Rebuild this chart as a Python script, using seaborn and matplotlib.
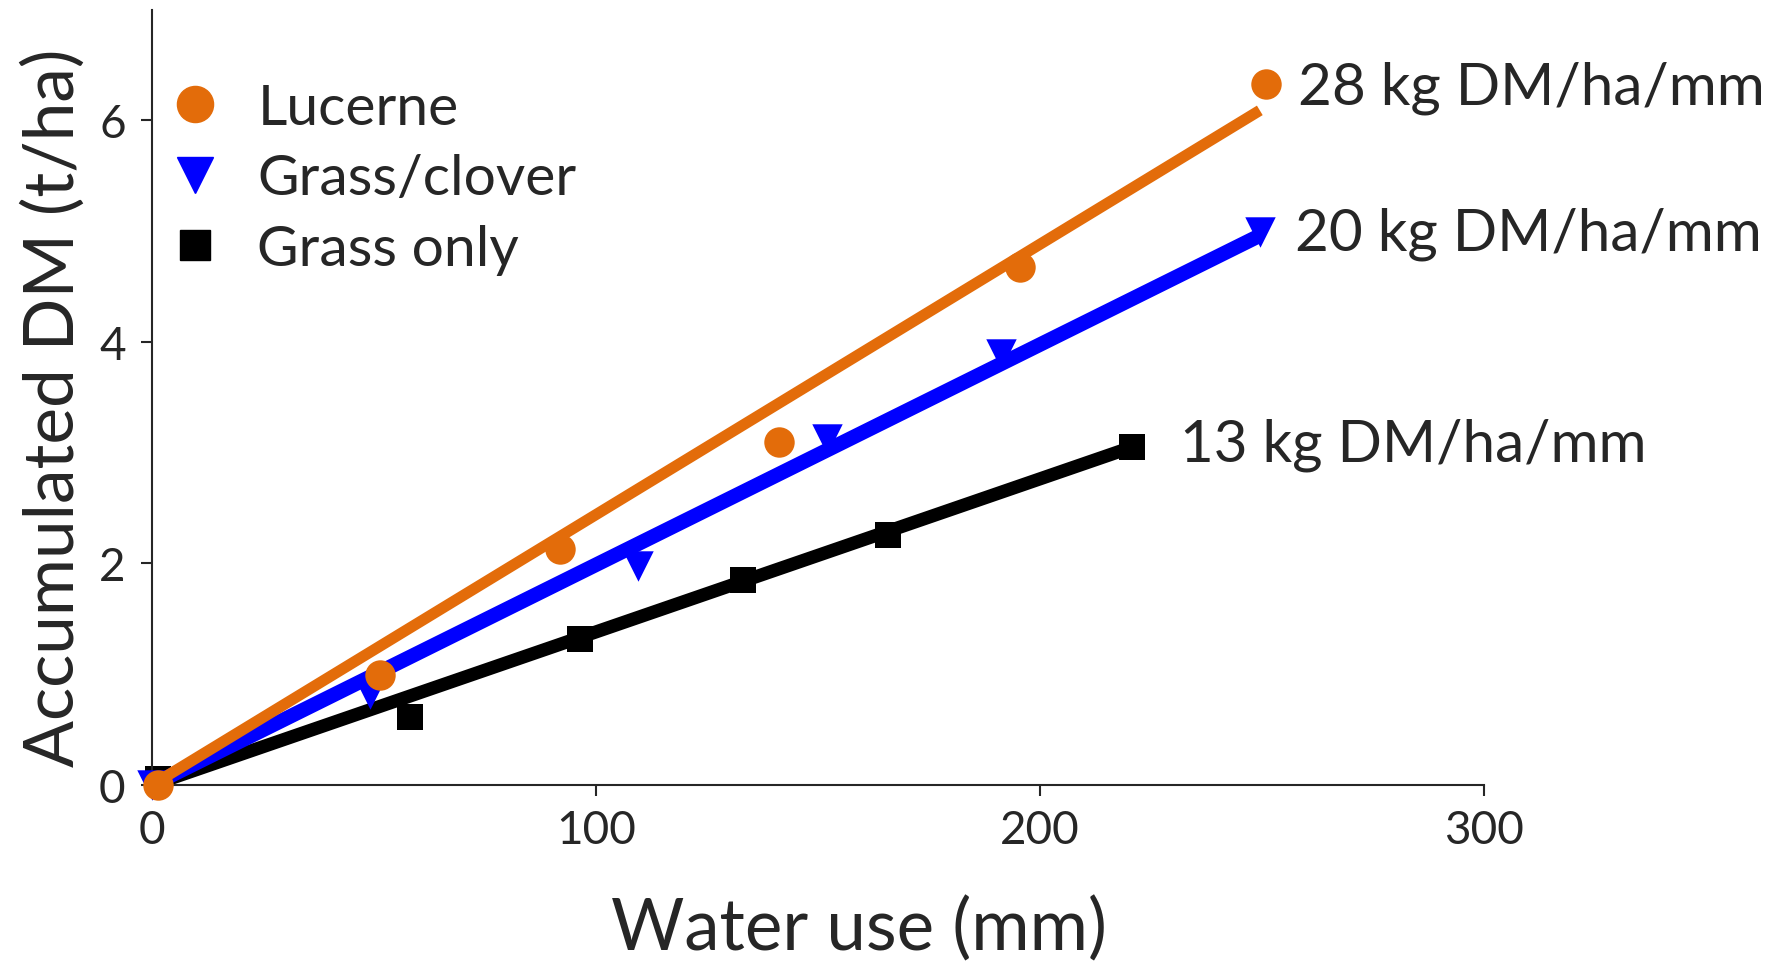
import numpy as np
import pandas as pd
import matplotlib
matplotlib.use("Agg")
import matplotlib.pyplot as plt
import seaborn as sns
from matplotlib.lines import Line2D

lucerne_x = [1.3, 51.3, 91.8, 141.3, 195.4, 251.0]
lucerne_y = [0.0, 0.99, 2.13, 3.10, 4.68, 6.33]
clover_x = [0.0, 49.2, 109.4, 152.0, 191.3, 249.5]
clover_y = [0.0, 0.82, 1.98, 3.12, 3.89, 4.99]
grass_x = [1.3, 58.2, 96.4, 133.2, 165.8, 220.7]
grass_y = [0.05, 0.61, 1.32, 1.85, 2.26, 3.05]

# fitted lines (start and end)
lucerne_fit_x = [0, 249.5]
lucerne_fit_y = [0, 6.09]
clover_fit_x = [0, 249.5]
clover_fit_y = [0, 4.96]
grass_fit_x = [0, 220.0]
grass_fit_y = [0, 3.04]

series = ["Lucerne", "Grass/clover", "Grass only"]
rates = ["28 kg DM/ha/mm", "20 kg DM/ha/mm", "13 kg DM/ha/mm"]
rate_pos_x = [258, 257.5, 231.5]
rate_pos_y = [6.30, 4.98, 3.08]

colors = {"Lucerne": "#E36C0A", "Grass/clover": "#0000FF", "Grass only": "#000000"}
markers = {"Lucerne": "o", "Grass/clover": "v", "Grass only": "s"}
sizes = {"Lucerne": 480, "Grass/clover": 480, "Grass only": 330}
widths = {"Lucerne": 8, "Grass/clover": 10.5, "Grass only": 9.5}
zorders = {"Grass only": 2, "Grass/clover": 3, "Lucerne": 4}

pts = pd.DataFrame({
    "water": lucerne_x + clover_x + grass_x,
    "dm": lucerne_y + clover_y + grass_y,
    "crop": ["Lucerne"] * 6 + ["Grass/clover"] * 6 + ["Grass only"] * 6,
})
fits = pd.DataFrame({
    "water": lucerne_fit_x + clover_fit_x + grass_fit_x,
    "dm": lucerne_fit_y + clover_fit_y + grass_fit_y,
    "crop": ["Lucerne"] * 2 + ["Grass/clover"] * 2 + ["Grass only"] * 2,
})

sns.set_style("ticks")
plt.rcParams["font.family"] = ["Lato", "DejaVu Sans"]

fig = plt.figure(figsize=(17.76, 9.62), dpi=100)
ax = fig.add_axes([0.0856, 0.183, 0.75, 0.806])

for crop in series:
    f = fits[fits["crop"] == crop]
    sns.lineplot(data=f, x="water", y="dm", color=colors[crop], lw=widths[crop],
                 ax=ax, zorder=zorders[crop], solid_capstyle="butt")
    p = pts[pts["crop"] == crop]
    sns.scatterplot(data=p, x="water", y="dm", color=colors[crop], marker=markers[crop],
                    s=sizes[crop], linewidth=0, ax=ax, zorder=zorders[crop], clip_on=False)

for txt, tx, ty in zip(rates, rate_pos_x, rate_pos_y):
    ax.text(tx, ty, txt, fontsize=42, va="center", ha="left")

ax.set_xlim(0, 300)
ax.set_ylim(0, 7)
ax.set_xticks([0, 100, 200, 300])
ax.set_yticks([0, 2, 4, 6])
ax.tick_params(axis="both", labelsize=33, length=8, width=1.5, direction="out")
ax.tick_params(axis="x", pad=9)
ax.tick_params(axis="y", pad=11)
sns.despine(ax=ax)
for sp in ["left", "bottom"]:
    ax.spines[sp].set_linewidth(1.5)

ax.set_xlabel("Water use (mm)", fontsize=51)
ax.set_ylabel("Accumulated DM (t/ha)", fontsize=50)
ax.xaxis.label.set_va("center")
ax.yaxis.label.set_va("center")
ax.xaxis.set_label_coords(0.531, -0.185)
ax.yaxis.set_label_coords(-0.0736, 0.488)

leg_sizes = {"Lucerne": 26, "Grass/clover": 26, "Grass only": 22}
handles = [Line2D([], [], ls="none", marker=markers[c], color=colors[c],
                  markersize=leg_sizes[c]) for c in series]
ax.legend(handles, series, loc="upper left", bbox_to_anchor=(-0.015, 0.95), frameon=False,
          fontsize=41, handletextpad=0.6, labelspacing=0.35, borderaxespad=0.2,
          handlelength=1.0)

fig.savefig("out.png", dpi=100)
